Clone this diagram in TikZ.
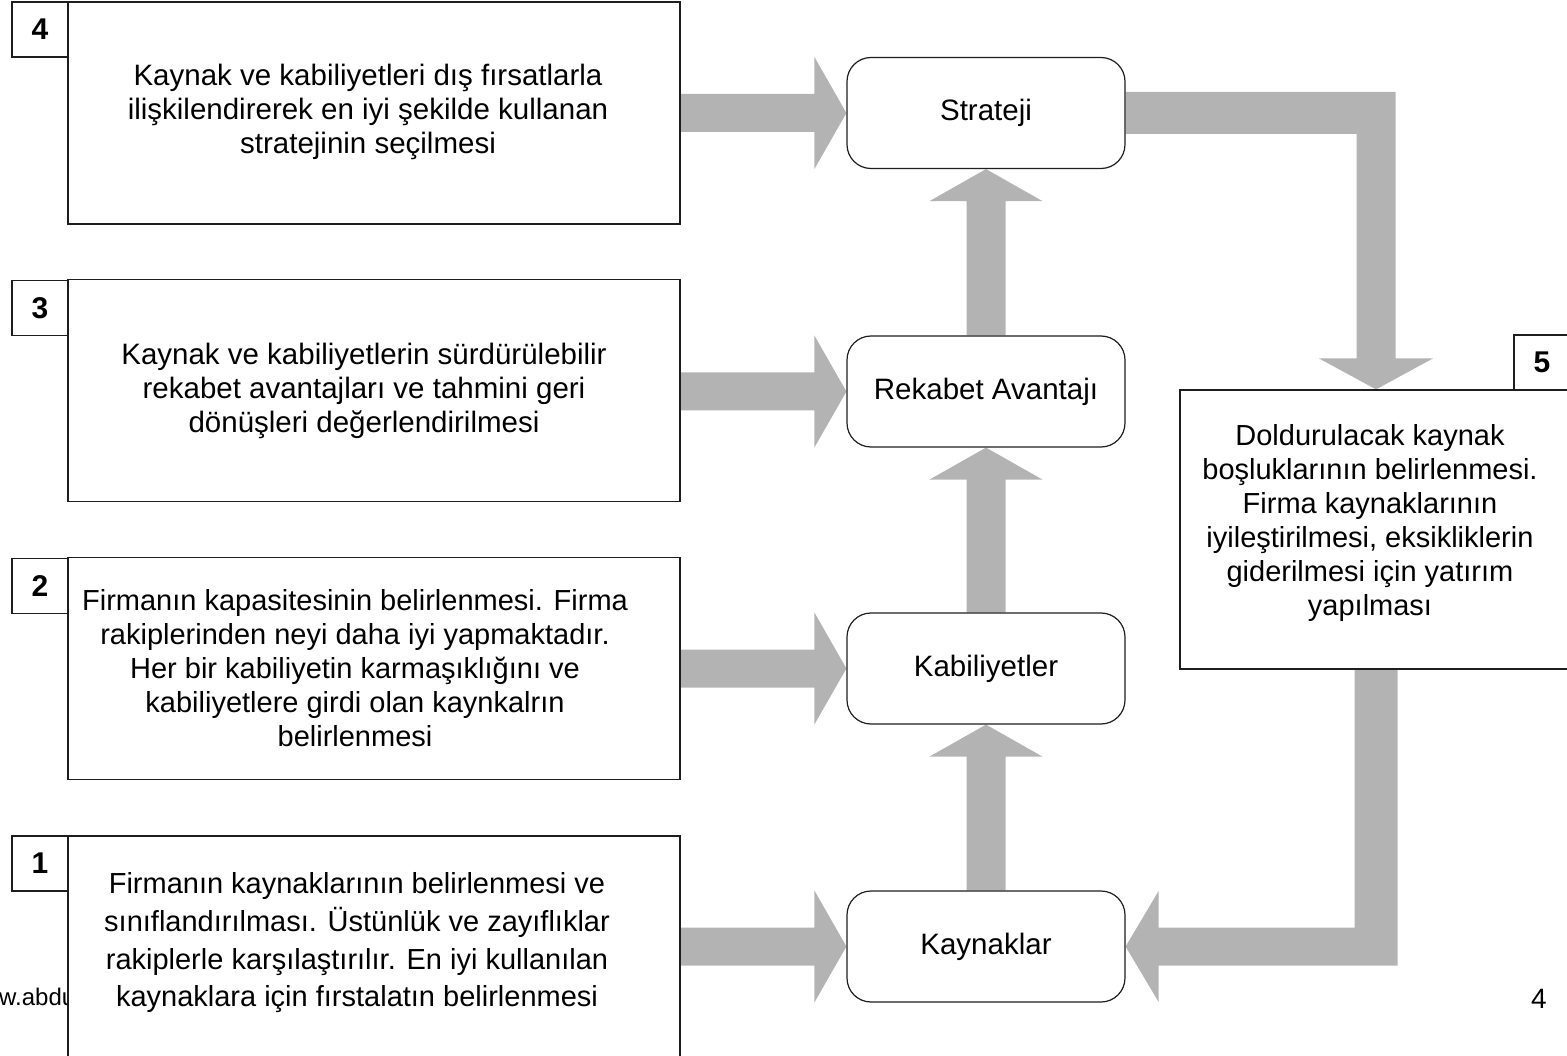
\documentclass[tikz,border=0pt]{standalone}
\usepackage{fontspec}
\setmainfont{Liberation Sans}
\usetikzlibrary{calc}
\pgfdeclarelayer{bg}
\pgfsetlayers{bg,main}
\definecolor{arrowgray}{RGB}{179,179,179}
\definecolor{edgecol}{RGB}{30,30,30}
\newcommand{\rarr}[2]{\fill[arr] ($(#1)+(0,-19)$) -- ($(#2)+(-32,-19)$) -- ($(#2)+(-32,-56)$) -- (#2) -- ($(#2)+(-32,56)$) -- ($(#2)+(-32,19)$) -- ($(#1)+(0,19)$) -- cycle;}
\newcommand{\uarr}[2]{\fill[arr] ($(#1)+(-19.5,0)$) -- ($(#2)+(-19.5,32)$) -- ($(#2)+(-56.5,32)$) -- (#2) -- ($(#2)+(56.5,32)$) -- ($(#2)+(19.5,32)$) -- ($(#1)+(19.5,0)$) -- cycle;}
\begin{document}
\begin{tikzpicture}[x=1pt,y=-1pt,
  box/.style={draw=edgecol, line width=1.2pt, fill=white, rectangle, minimum width=612pt, minimum height=222pt, inner sep=0pt},
  numbox/.style={draw=edgecol, line width=1.2pt, fill=white, rectangle, minimum width=56pt, minimum height=55pt, inner sep=0pt, font=\fontsize{30}{34}\selectfont\bfseries},
  rbox/.style={draw=edgecol, line width=1.2pt, fill=white, rectangle, rounded corners=24pt, minimum width=278pt, minimum height=111pt, inner sep=0pt, font=\fontsize{29.5}{34}\selectfont},
  txt/.style={align=center, inner sep=0pt, font=\fontsize{29.5}{34}\selectfont},
  arr/.style={fill=arrowgray}]
\useasboundingbox (0,0) rectangle (1567,1056);

% footer text (partly hidden behind box 1)
\node[anchor=base west, inner sep=0pt, font=\fontsize{24}{28}\selectfont] (foot) at (-1,1005) {w.abdu};
\node[anchor=base, inner sep=0pt, font=\fontsize{28}{30}\selectfont] (page) at (1539,1008) {4};

% left boxes
\node[box] (b4) at (374,113) {};
\node[box] (b3) at (374,390.5) {};
\node[box] (b2) at (374,668.5) {};
\node[box] (b1) at (374,947) {};
\node[numbox] (n4) at (40,29.5) {4};
\node[numbox] (n3) at (40,308) {3};
\node[numbox] (n2) at (40,586) {2};
\node[numbox] (n1) at (40,863.5) {1};

\node[txt] (t4) at (368,112) {Kaynak ve kabiliyetleri dış fırsatlarla\\ilişkilendirerek en iyi şekilde kullanan\\stratejinin seçilmesi};
\node[txt] (t3) at (364,391) {Kaynak ve kabiliyetlerin sürdürülebilir\\rekabet avantajları ve tahmini geri\\dönüşleri değerlendirilmesi};
\node[txt, font=\fontsize{29}{34}\selectfont] (t2) at (355,668) {Firmanın kapasitesinin belirlenmesi. Firma\\rakiplerinden neyi daha iyi yapmaktadır.\\Her bir kabiliyetin karmaşıklığını ve\\kabiliyetlere girdi olan kaynkalrın\\belirlenmesi};
\node[txt, font=\fontsize{29}{37.7}\selectfont] (t1) at (357,943) {Firmanın kaynaklarının belirlenmesi ve\\sınıflandırılması. Üstünlük ve zayıflıklar\\rakiplerle karşılaştırılır. En iyi kullanılan\\kaynaklara için fırstalatın belirlenmesi};

% middle rounded boxes
\node[rbox] (st) at (986,113) {Strateji};
\node[rbox] (ra) at (986,391.5) {Rekabet Avantajı};
\node[rbox] (kb) at (986,668.5) {Kabiliyetler};
\node[rbox] (ky) at (986,946.5) {Kaynaklar};

% right box
\node[draw=edgecol, line width=1.2pt, fill=white, rectangle, minimum width=392pt, minimum height=279pt, inner sep=0pt] (b5) at (1376,529.5) {};
\node[numbox] (n5) at (1542,362.5) {5};
\node[txt, font=\fontsize{29}{34}\selectfont] (t5) at (1370,523) {Doldurulacak kaynak\\boşluklarının belirlenmesi.\\Firma kaynaklarının\\iyileştirilmesi, eksikliklerin\\giderilmesi için yatırım\\yapılması};

% arrows
\coordinate (a4) at (b4.east |- st.west);
\coordinate (a3) at (b3.east |- ra.west);
\coordinate (a2) at (b2.east |- kb.west);
\coordinate (a1) at (b1.east |- ky.west);
\coordinate (c1) at (b5.north |- st.east);
\coordinate (c2) at (b5.south |- ky.east);
\begin{pgfonlayer}{bg}
\rarr{a4}{st.west}
\rarr{a3}{ra.west}
\rarr{a2}{kb.west}
\rarr{a1}{ky.west}
\uarr{ra.north}{st.south}
\uarr{kb.north}{ra.south}
\uarr{ky.north}{kb.south}
\fill[arr] ($(st.east)+(0,-21)$) -- ($(c1)+(19.5,-21)$) -- ($(b5.north)+(19.5,-31)$) -- ($(b5.north)+(57,-31)$) -- (b5.north) -- ($(b5.north)+(-57,-31)$) -- ($(b5.north)+(-19.5,-31)$) -- ($(c1)+(-19.5,21)$) -- ($(st.east)+(0,21)$) -- cycle;
\fill[arr] ($(b5.south)+(-21.5,0)$) -- ($(c2)+(-21.5,-19)$) -- ($(ky.east)+(33,-19)$) -- ($(ky.east)+(33,-55.5)$) -- (ky.east) -- ($(ky.east)+(33,55.5)$) -- ($(ky.east)+(33,19)$) -- ($(c2)+(21.5,19)$) -- ($(b5.south)+(21.5,0)$) -- cycle;
\end{pgfonlayer}
\end{tikzpicture}
\end{document}
